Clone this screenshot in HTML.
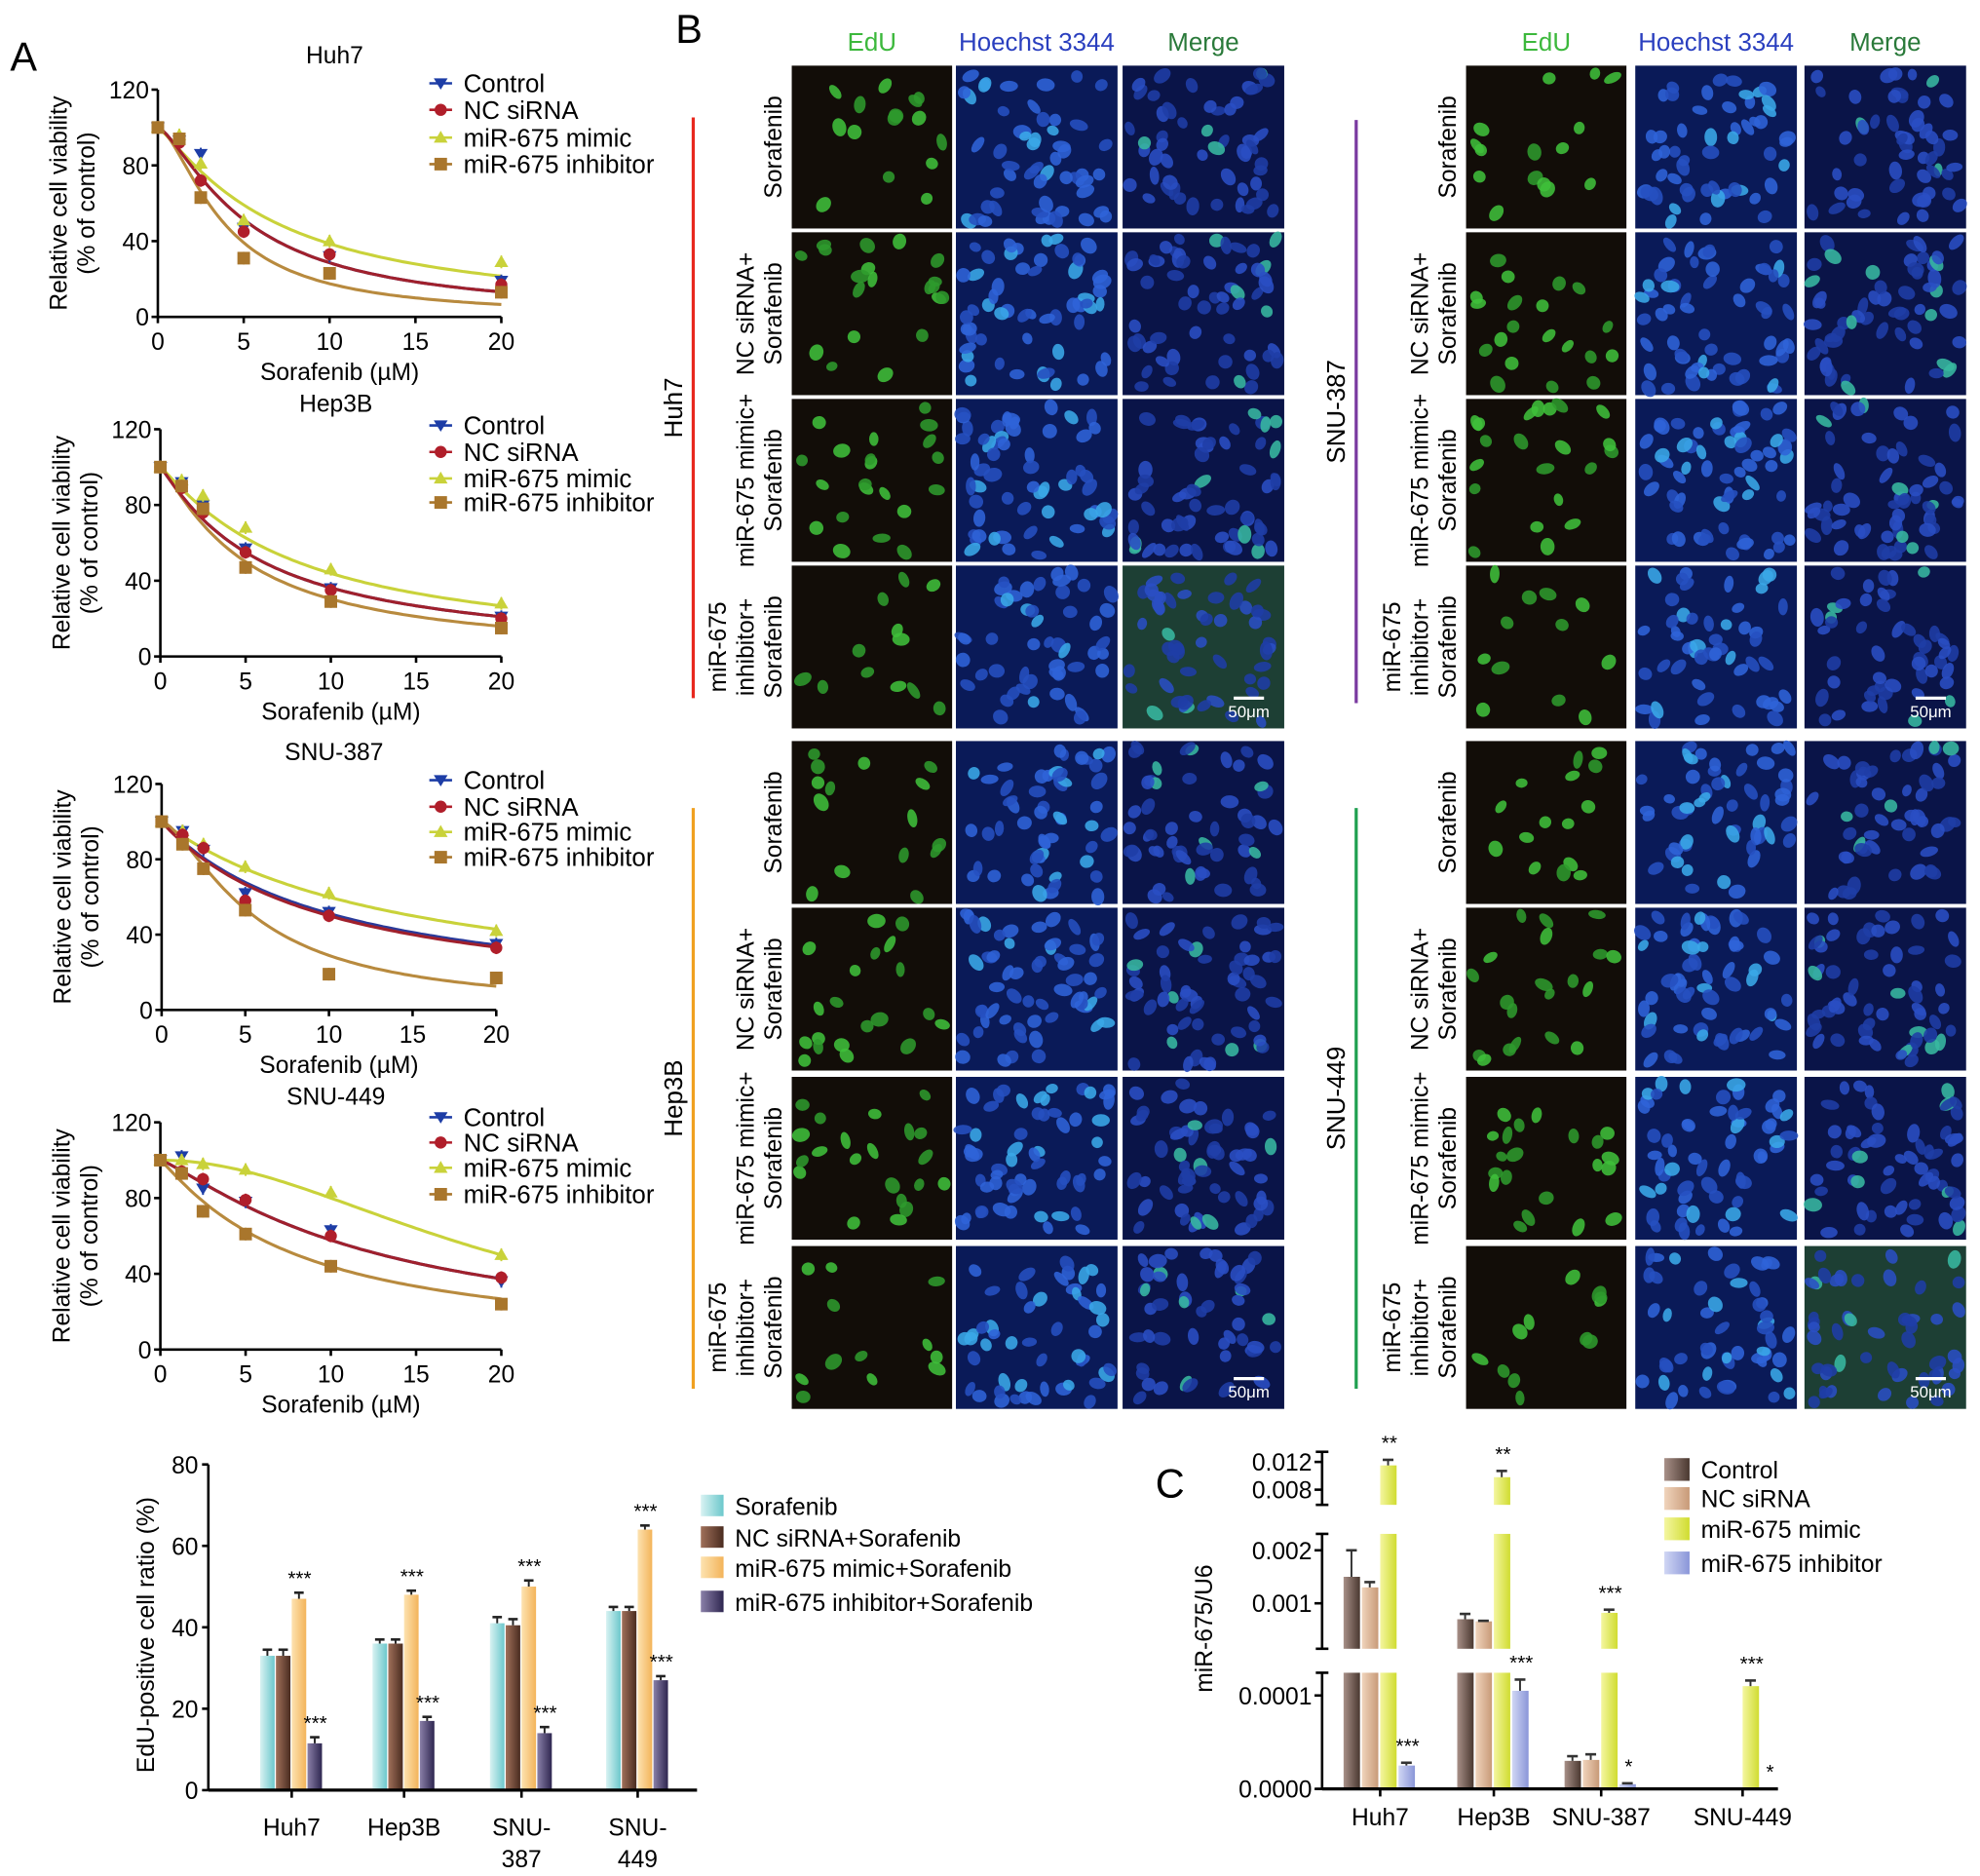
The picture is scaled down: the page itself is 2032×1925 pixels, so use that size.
<!DOCTYPE html>
<html><head><meta charset="utf-8">
<style>
html,body{margin:0;padding:0;background:#fff;}
svg{display:block;font-family:"Liberation Sans",Arial,sans-serif;}
</style></head>
<body>
<svg id="fig" width="2032" height="1925" viewBox="0 0 1568 1486" preserveAspectRatio="none" xmlns="http://www.w3.org/2000/svg">
<text x="8" y="56" font-size="32">A</text>
<text x="535" y="34" font-size="32">B</text>
<text x="915" y="1186" font-size="32">C</text>
</svg>
<script>
// ===== Panel A data =====
const doses=[0,1.25,2.5,5,10,20];
const seriesNames=["Control","NC siRNA","miR-675 mimic","miR-675 inhibitor"];
const huh7Control=[100,93,86,47,32,19];
const huh7NC=[100,92,72,45,33,17];
const huh7Mimic=[100,96,81,51,40,29];
const huh7Inhib=[100,94,63,31,23,13];
const hep3bControl=[100,92,80,57,36,21];
const hep3bNC=[100,89,76,55,35,20];
const hep3bMimic=[100,93,85,68,46,28];
const hep3bInhib=[100,90,78,47,29,15];
const snu387Control=[100,95,85,62,52,35];
const snu387NC=[100,93,86,58,50,33];
const snu387Mimic=[100,95,88,76,62,42];
const snu387Inhib=[100,88,75,53,19,17];
const snu449Control=[100,102,85,78,63,36];
const snu449NC=[100,94,90,79,60,38];
const snu449Mimic=[100,100,98,95,83,50];
const snu449Inhib=[100,93,73,61,44,24];
// fitted curve parameters (IC50, Hill) per series: control, NC, mimic, inhibitor
const huh7IC50=[5.2,5.2,6.8,3.8], huh7Hill=[1.4,1.4,1.2,1.6];
const hep3bIC50=[6,6,8,5], hep3bHill=[1.1,1.1,1.1,1.2];
const snu387IC50=[10.5,10,15,5.5], snu387Hill=[1,1,1,1.5];
const snu449IC50=[13,13,20,8], snu449Hill=[1.2,1.2,2,1.1];
const yTicksA=[0,40,80,120];
const xTicksA=[0,5,10,15,20];

// ===== EdU bar data =====
const edCats=["Huh7","Hep3B","SNU-387","SNU-449"];
const edSeries=["Sorafenib","NC siRNA+Sorafenib","miR-675 mimic+Sorafenib","miR-675 inhibitor+Sorafenib"];
const edSoraf=[33,36,41,44];
const edNC=[33,36,40.5,44];
const edMimic=[47,48,50,64];
const edInhib=[11.5,17,14,27];
const edErr=[1.5,1,1.5,1];
const edTicks=[0,20,40,60,80];

// ===== Panel C data =====
const cCats=["Huh7","Hep3B","SNU-387","SNU-449"];
const cSeries=["Control","NC siRNA","miR-675 mimic","miR-675 inhibitor"];
const cControl=[0.0015,0.0007,0.00003,0.0000005];
const cNC=[0.0013,0.00066,0.000031,0.0000005];
const cMimic=[0.0115,0.0098,0.00082,0.00011];
const cInhib=[0.000025,0.000105,0.000005,0];
const cTickVals=[0,0.0001,0.001,0.002,0.008,0.012];
const cTickLabels=["0.0000","0.0001","0.001","0.002","0.008","0.012"];

const NS="http://www.w3.org/2000/svg";
const svg=document.getElementById('fig');
function mk(tag,attrs,parent){const e=document.createElementNS(NS,tag);for(const k in attrs)e.setAttribute(k,attrs[k]);(parent||svg).appendChild(e);return e;}
function txt(x,y,s,size,attrs,parent){const e=mk('text',Object.assign({x:x,y:y,'font-size':size},attrs||{}),parent);e.textContent=s;return e;}

const lineColors=["#1d3da6","#b01e2a","#c9d23a","#a9762c"];
const curveColors=["#2a3a9a","#a0202c","#c9d23a","#b88a3e"];

function marker(g,type,x,y,c){
  let e;
  if(type===0)e=mk('polygon',{points:`${x-5.5},${y-4} ${x+5.5},${y-4} ${x},${y+5}`,fill:c},g);
  else if(type===1)e=mk('circle',{cx:x,cy:y,r:4.8,fill:c},g);
  else if(type===2)e=mk('polygon',{points:`${x-5.5},${y+4} ${x+5.5},${y+4} ${x},${y-5.5}`,fill:c},g);
  else e=mk('rect',{x:x-5,y:y-5,width:10,height:10,fill:c},g);
  return e;
}

const panels=[
 {name:"Huh7",x0:125,x20:397,y0:251,y120:71,titleY:50,legY:[66,87,109,130],data:[huh7Control,huh7NC,huh7Mimic,huh7Inhib],ic:huh7IC50,h:huh7Hill},
 {name:"Hep3B",x0:127,x20:397,y0:520,y120:340,titleY:326,legY:[337,358,379,398],data:[hep3bControl,hep3bNC,hep3bMimic,hep3bInhib],ic:hep3bIC50,h:hep3bHill},
 {name:"SNU-387",x0:128,x20:393,y0:800,y120:621,titleY:602,legY:[618,639,659,679],data:[snu387Control,snu387NC,snu387Mimic,snu387Inhib],ic:snu387IC50,h:snu387Hill},
 {name:"SNU-449",x0:127,x20:397,y0:1069,y120:889,titleY:875,legY:[885,905,925,946],data:[snu449Control,snu449NC,snu449Mimic,snu449Inhib],ic:snu449IC50,h:snu449Hill}
];
panels.forEach((p,pi)=>{
  const g=mk('g',{});
  
  
  const X=v=>p.x0+(p.x20-p.x0)*v/20;
  const Y=v=>p.y0-(p.y0-p.y120)*v/120;
  const t=txt((p.x0+p.x20)/2+4,p.titleY,p.name,19,{'text-anchor':'middle'},g);
  
  mk('line',{x1:p.x0,y1:p.y0,x2:p.x0,y2:p.y120,stroke:'#000','stroke-width':2},g);
  mk('line',{x1:p.x0,y1:p.y0,x2:p.x20,y2:p.y0,stroke:'#000','stroke-width':2},g);
  yTicksA.forEach(v=>{mk('line',{x1:p.x0-5,y1:Y(v),x2:p.x0,y2:Y(v),stroke:'#000','stroke-width':2},g);
    const l=txt(p.x0-7,Y(v)+7,String(v),19,{'text-anchor':'end'},g);});
  xTicksA.forEach(v=>{mk('line',{x1:X(v),y1:p.y0,x2:X(v),y2:p.y0+5,stroke:'#000','stroke-width':2},g);
    const l=txt(X(v),p.y0+26,String(v),19,{'text-anchor':'middle'},g);});
  const xl=txt((p.x0+p.x20)/2+8,p.y0+50,"Sorafenib (\u00b5M)",19,{'text-anchor':'middle'},g);
  
  const cy=(p.y0+p.y120)/2;
  const yl=mk('text',{transform:`translate(${p.x0-72},${cy}) rotate(-90)`,'font-size':19,'text-anchor':'middle'},g);
  
  const s1=mk('tspan',{x:0,y:0},yl);s1.textContent="Relative cell viability";
  const s2=mk('tspan',{x:0,y:22},yl);s2.textContent="(% of control)";
  [0,2,3,1].forEach(si=>{
    let d="";
    for(let k=0;k<=80;k++){const xv=20*k/80;const yv=100/(1+Math.pow(xv/p.ic[si],p.h[si]));d+=(k?"L":"M")+X(xv).toFixed(1)+","+Y(yv).toFixed(1);}
    const c=mk('path',{d:d,fill:'none',stroke:curveColors[si],'stroke-width':2.4},g);
    
  });
  [0,2,1,3].forEach(si=>{
    p.data[si].forEach((v,i)=>{
      mk('line',{x1:X(doses[i]),y1:Y(v)-5,x2:X(doses[i]),y2:Y(v)+5,stroke:lineColors[si],'stroke-width':1.5},g);
      const m=marker(g,si,X(doses[i]),Y(v),lineColors[si]);
      
    });
  });
  seriesNames.forEach((n,si)=>{
    const ly=p.legY[si];
    const lg=mk('g',{},g);
    
    mk('line',{x1:340,y1:ly,x2:358,y2:ly,stroke:lineColors[si],'stroke-width':2},lg);
    marker(lg,si,349,ly,lineColors[si]);
    txt(367,ly+7,n,20,{},lg);
  });
});

// ===== Panel B: micrographs =====
let seed=12345;
function rnd(){seed=(seed*1103515245+12345)%2147483648;return seed/2147483648;}
function micro(x,y,w,h,type,label,density,greenish){
  const g=mk('g',{});
  
  
  const bg={edu:'#120d08',hoe:'#0a1a58',mer:greenish?'#1d3f34':'#0a1448'}[type];
  mk('rect',{x:x,y:y,width:w,height:h,fill:bg},g);
  const n=type==='edu'?Math.round(10+density*16):Math.round(48+density*14);
  for(let i=0;i<n;i++){
    const cx=x+5+rnd()*(w-10),cy=y+5+rnd()*(h-10);
    const rx=4.5+rnd()*3,ry=3.5+rnd()*2.2,a=Math.round(rnd()*180);
    let col;
    if(type==='edu')col=rnd()<0.5?'#3fbf3a':'#2e9a2c';
    else if(type==='hoe')col=rnd()<0.2?'#3aa8e8':(rnd()<0.5?'#2f63d8':'#2550c0');
    else col=rnd()<0.1?'#38b8a0':(rnd()<0.5?'#2a4ec4':'#1f3ea6');
    mk('ellipse',{cx:cx.toFixed(1),cy:cy.toFixed(1),rx:rx.toFixed(1),ry:ry.toFixed(1),fill:col,transform:`rotate(${a} ${cx.toFixed(1)} ${cy.toFixed(1)})`,opacity:0.88},g);
  }
  return g;
}
const leftCols=[627,757,889], rightCols=[1161,1295,1429], colW=[127,128,128];
const rowsTop=[52,184,316,448], rowsBot=[587,719,853,987], rowH=129;
const types=['edu','hoe','mer'];
const dens=[0.3,0.6,0.7,0.1];
[[leftCols,rowsTop,'huh7'],[leftCols,rowsBot,'hep3b'],[rightCols,rowsTop,'snu387'],[rightCols,rowsBot,'snu449']].forEach(([cols,rows,nm],gi)=>{
  rows.forEach((ry,ri)=>{cols.forEach((cx,ci)=>{
    micro(cx,ry,colW[ci],rowH,types[ci],nm+'-'+ri+'-'+types[ci],dens[ri],ci===2&&ri===3&&(gi===0||gi===3));
  });});
  const sb=mk('g',{});
  
  const bx=cols[2]+colW[2]-40, by=rows[3]+rowH-24;
  mk('line',{x1:bx,y1:by,x2:bx+24,y2:by,stroke:'#fff','stroke-width':2.5},sb);
  txt(bx+12,by+15,'50\u03bcm',13,{fill:'#fff','text-anchor':'middle'},sb);
});
[[leftCols],[rightCols]].forEach(([cols])=>{
  const hd=[['EdU','#3cb83c'],['Hoechst 3344','#2a3fbf'],['Merge','#2a7a3a']];
  hd.forEach((h,i)=>{const t=txt(cols[i]+colW[i]/2,40,h[0],20,{'text-anchor':'middle',fill:h[1]});
    });
});
const rowLabels=[["Sorafenib"],["NC siRNA+","Sorafenib"],["miR-675 mimic+","Sorafenib"],["miR-675","inhibitor+","Sorafenib"]];
[[leftCols[0],rowsTop],[leftCols[0],rowsBot],[rightCols[0],rowsTop],[rightCols[0],rowsBot]].forEach(([cx,rows])=>{
  rows.forEach((ry,ri)=>{
    const lines=rowLabels[ri];
    const t=mk('text',{transform:`translate(${cx-8},${ry+rowH/2}) rotate(-90)`,'font-size':19,'text-anchor':'middle'});
    
    lines.forEach((l,li)=>{const s=mk('tspan',{x:0,y:(li-(lines.length-1))*22},t);s.textContent=l;});
  });
});
const groups=[["Huh7",540,93,553,'#e8281e'],["Hep3B",540,640,1100,'#f0a020'],["SNU-387",1065,95,557,'#7a3aa0'],["SNU-449",1065,640,1100,'#1fa050']];
groups.forEach(([n,x,y1,y2,c])=>{
  const l=mk('line',{x1:x+9,y1:y1,x2:x+9,y2:y2,stroke:c,'stroke-width':2.5});
  
  const t=mk('text',{transform:`translate(${x},${(y1+y2)/2}) rotate(-90)`,'font-size':20,'text-anchor':'middle'});
  
  t.textContent=n;
});

// ===== EdU bar chart =====
(function(){
  const g=mk('g',{});
  
  const ax0=165, ay0=1418, ay80=1160, axEnd=552;
  const Y=v=>ay0-(ay0-ay80)*v/80;
  const centers=[231,320,413,505];
  const bw=12.5;
  const cols=['url(#gCyan)','url(#gBrown)','url(#gOrange)','url(#gPurple)'];
  const defs=mk('defs',{},g);
  [['gCyan','#d8f2f2','#6cc8cc'],['gBrown','#a0705a','#4a2c20'],['gOrange','#fde2b0','#f3b45a'],['gPurple','#8a80a8','#2e2650']].forEach(([id,a,b])=>{
    const lg=mk('linearGradient',{id:id,x1:0,x2:1,y1:0,y2:0},defs);
    mk('stop',{offset:'0','stop-color':a},lg);mk('stop',{offset:'1','stop-color':b},lg);
  });
  const all=[edSoraf,edNC,edMimic,edInhib];
  all.forEach((arr,si)=>{
    arr.forEach((v,ci)=>{
      const x=centers[ci]-2*bw+si*bw;
      const r=mk('rect',{x:x,y:Y(v),width:bw-1,height:ay0-Y(v),fill:cols[si]},g);
      
      mk('line',{x1:x+(bw-1)/2,y1:Y(v),x2:x+(bw-1)/2,y2:Y(v+edErr[ci]),stroke:'#222','stroke-width':1.5},g);
      mk('line',{x1:x+2,y1:Y(v+edErr[ci]),x2:x+bw-3,y2:Y(v+edErr[ci]),stroke:'#222','stroke-width':2},g);
      if(si>=2){const s=txt(x+bw/2,Y(v+edErr[ci])-6,'***',16,{'text-anchor':'middle'},g);}
    });
  });
  mk('line',{x1:ax0,y1:ay0,x2:ax0,y2:ay80,stroke:'#000','stroke-width':2},g);
  mk('line',{x1:ax0,y1:ay0,x2:axEnd,y2:ay0,stroke:'#000','stroke-width':2.5},g);
  edTicks.forEach(v=>{mk('line',{x1:ax0-5,y1:Y(v),x2:ax0,y2:Y(v),stroke:'#000','stroke-width':2},g);
    const l=txt(ax0-8,Y(v)+7,String(v),19,{'text-anchor':'end'},g);});
  const labs=[["Huh7"],["Hep3B"],["SNU-","387"],["SNU-","449"]];
  centers.forEach((c,i)=>{mk('line',{x1:c,y1:ay0,x2:c,y2:ay0+6,stroke:'#000','stroke-width':2},g);
    labs[i].forEach((s,k)=>{const l=txt(c,1454+k*25,s,19,{'text-anchor':'middle'},g);});});
  const yl=mk('text',{transform:`translate(122,1295) rotate(-90)`,'font-size':19,'text-anchor':'middle'},g);
  yl.textContent="EdU-positive cell ratio (%)";
  const ly=[1193,1218,1242,1269];
  edSeries.forEach((n,i)=>{const lg=mk('g',{},g);
    
    mk('rect',{x:555,y:ly[i]-9,width:18,height:17,fill:cols[i]},lg);txt(582,ly[i]+7,n,19,{},lg);});
})();

// ===== Panel C =====
(function(){
  const g=mk('g',{});
  
  const ax=1047, ay0=1417;
  function Y(v){
    if(v<=0.00012)return ay0-v/0.0001*74;
    if(v<=0.0023)return 1270-(v-0.001)*42000;
    return 1180-(v-0.008)*5500;
  }
  const centers=[1093,1183,1268,1380];
  const bw=14.5;
  const defs=mk('defs',{},g);
  [['cBrown','#a89088','#4a3830'],['cTan','#f0d4bc','#c89a78'],['cLime','#f4f6a0','#d0dc30'],['cLav','#d0d6f4','#8a96d8']].forEach(([id,a,b])=>{
    const lg=mk('linearGradient',{id:id,x1:0,x2:1,y1:0,y2:0},defs);
    mk('stop',{offset:'0','stop-color':a},lg);mk('stop',{offset:'1','stop-color':b},lg);
  });
  const cols=['url(#cBrown)','url(#cTan)','url(#cLime)','url(#cLav)'];
  const all=[cControl,cNC,cMimic,cInhib];
  const errs=[[0.0005,0.0001,0.000005,0],[0.0001,0.00001,0.000006,0],[0.0008,0.0009,0.00006,0.000006],[0.000003,0.000012,0.000001,0]];
  all.forEach((arr,si)=>{arr.forEach((v,ci)=>{
    const x=centers[ci]-2*bw+si*bw;
    const r=mk('rect',{x:x,y:Y(v),width:bw-1.5,height:Math.max(0.5,ay0-Y(v)),fill:cols[si]},g);
    
    const e=errs[si][ci];
    if(v>0.000001){mk('line',{x1:x+bw/2-1,y1:Y(v),x2:x+bw/2-1,y2:Y(v+e),stroke:'#333','stroke-width':1.5},g);
      mk('line',{x1:x+2,y1:Y(v+e),x2:x+bw-4,y2:Y(v+e),stroke:'#333','stroke-width':2},g);}
  });});
  mk('rect',{x:ax+3,y:1192,width:360,height:23,fill:'#fff'},g);
  mk('rect',{x:ax+3,y:1306,width:360,height:19,fill:'#fff'},g);
  [[1150,1192],[1215,1306],[1325,ay0]].forEach(([a,b])=>{
    mk('line',{x1:ax,y1:a,x2:ax,y2:b,stroke:'#000','stroke-width':2},g);
    mk('line',{x1:ax-5,y1:a,x2:ax+5,y2:a,stroke:'#000','stroke-width':2},g);
    mk('line',{x1:ax-5,y1:b,x2:ax+5,y2:b,stroke:'#000','stroke-width':2},g);
  });
  mk('line',{x1:ax,y1:ay0,x2:1408,y2:ay0,stroke:'#000','stroke-width':2.5},g);
  cTickVals.forEach((v,i)=>{mk('line',{x1:ax-6,y1:Y(v),x2:ax,y2:Y(v),stroke:'#000','stroke-width':2},g);
    const l=txt(ax-8,Y(v)+7,cTickLabels[i],19,{'text-anchor':'end'},g);});
  centers.forEach((c,i)=>{mk('line',{x1:c,y1:ay0,x2:c,y2:ay0+6,stroke:'#000','stroke-width':2},g);
    const l=txt(c,1446,cCats[i],19,{'text-anchor':'middle'},g);});
  const stars=[[0,2,'**'],[1,2,'**'],[0,3,'***'],[1,3,'***'],[2,2,'***'],[2,3,'*'],[3,2,'***'],[3,3,'*']];
  stars.forEach(([ci,si,s])=>{const v=all[si][ci]+errs[si][ci];const x=centers[ci]-2*bw+si*bw+bw/2;
    const t=txt(x,Y(v)-8,s,16,{'text-anchor':'middle'},g);});
  const yl=mk('text',{transform:`translate(960,1290) rotate(-90)`,'font-size':19,'text-anchor':'middle'},g);
  yl.textContent="miR-675/U6";
  const ly=[1164,1187,1211,1238];
  cSeries.forEach((n,i)=>{const lg=mk('g',{},g);
    
    mk('rect',{x:1318,y:ly[i]-9,width:20,height:18,fill:cols[i]},lg);txt(1347,ly[i]+7,n,19,{},lg);});
})();
</script>
</body></html>
